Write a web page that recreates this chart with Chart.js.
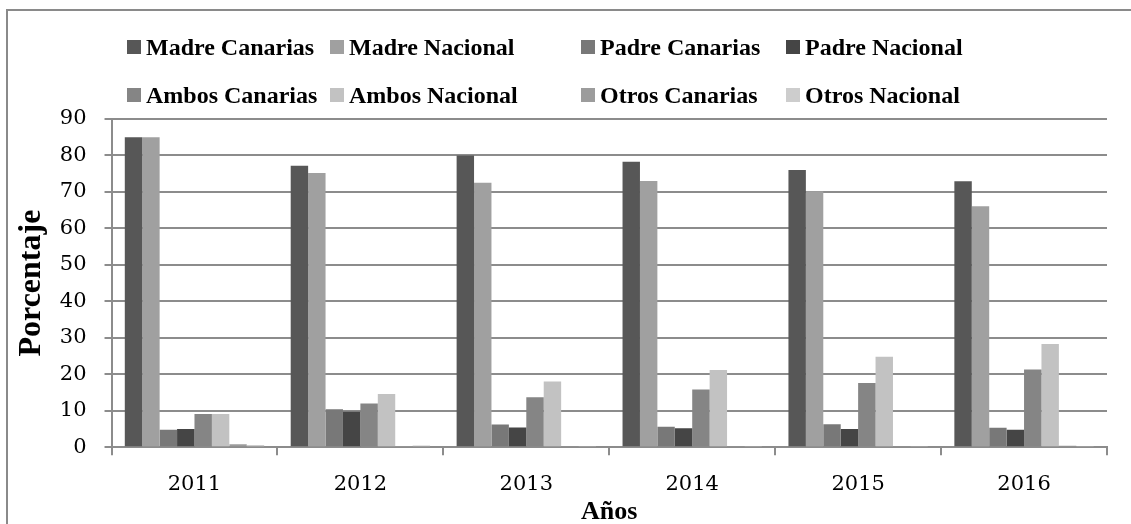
<!DOCTYPE html>
<html>
<head>
<meta charset="utf-8">
<script src="https://cdn.jsdelivr.net/npm/chart.js@4"></script>
<style>
  body { margin: 0; background: #fff; }
  #wrap { position: relative; width: 1131px; height: 524px; overflow: hidden; }
  #frame { position: absolute; left: 6px; top: 9px; width: 1140px; height: 530px; border: 2px solid #8a8a8a; box-sizing: border-box; }
  #chartBox { position: absolute; left: 0; top: 0; width: 1131px; height: 524px; }
  .legend-item { position: absolute; display: flex; align-items: center; white-space: nowrap;
    font: bold 24px "Liberation Serif", "Times New Roman", serif; color: #000; }
  .legend-box { width: 14px; height: 14px; margin-right: 5px; }
</style>
</head>
<body>
<div id="wrap">
  <div id="frame"></div>
  <div id="chartBox"><canvas id="chart"></canvas></div>
  <div id="legend"></div>
</div>
<script>
// --- Data ---
const years = ['2011', '2012', '2013', '2014', '2015', '2016'];
const seriesNames = ['Madre Canarias', 'Madre Nacional', 'Padre Canarias', 'Padre Nacional',
  'Ambos Canarias', 'Ambos Nacional', 'Otros Canarias', 'Otros Nacional'];
const madreCanarias = [85, 77.2, 80, 78.3, 76, 72.9];
const madreNacional = [85, 75.2, 72.5, 73, 70.2, 66.1];
const padreCanarias = [4.8, 10.4, 6.2, 5.6, 6.3, 5.3];
const padreNacional = [5.0, 9.7, 5.4, 5.2, 5.0, 4.8];
const ambosCanarias = [9.1, 12.0, 13.7, 15.8, 17.6, 21.3];
const ambosNacional = [9.1, 14.6, 18.0, 21.2, 24.8, 28.3];
const otrosCanarias = [0.8, 0.1, 0.2, 0.2, 0.2, 0.4];
const otrosNacional = [0.6, 0.5, 0.2, 0.2, 0.2, 0.3];
const yTicks = [0, 10, 20, 30, 40, 50, 60, 70, 80, 90];

const COLORS = ['#575757', '#a0a0a0', '#787878', '#454545', '#858585', '#c2c2c2', '#9c9c9c', '#cdcdcd'];
const GRID = '#8c8c8c';

const values = [madreCanarias, madreNacional, padreCanarias, padreNacional,
  ambosCanarias, ambosNacional, otrosCanarias, otrosNacional];

// --- Legend (two rows of four, aligned columns) ---
const legendCols = [127, 330, 581, 786];
const legendRows = [47, 95];
const legend = document.getElementById('legend');
seriesNames.forEach((name, i) => {
  const item = document.createElement('div');
  item.className = 'legend-item';
  item.style.left = legendCols[i % 4] + 'px';
  item.style.top = (legendRows[Math.floor(i / 4)] - 14) + 'px';
  item.style.height = '28px';
  item.innerHTML = `<span class="legend-box" style="background:${COLORS[i]}"></span>${name}`;
  legend.appendChild(item);
});

// --- Chart ---
new Chart(document.getElementById('chart').getContext('2d'), {
  type: 'bar',
  data: {
    labels: years,
    datasets: seriesNames.map((name, i) => ({
      label: name,
      data: values[i],
      backgroundColor: COLORS[i],
      barPercentage: 1,
      categoryPercentage: 0.84,
    })),
  },
  options: {
    responsive: true,
    maintainAspectRatio: false,
    animation: false,
    layout: { autoPadding: false, padding: { top: 119, right: 24, bottom: 0, left: 12 } },
    plugins: { legend: { display: false }, tooltip: { enabled: false } },
    scales: {
      x: {
        grid: { offset: true, drawOnChartArea: false, tickLength: 8, color: GRID, lineWidth: 2 },
        border: { color: GRID, width: 2 },
        ticks: { color: '#000', padding: 17, font: { family: 'DejaVu Serif', size: 21 } },
        title: {
          display: true, text: 'Años', color: '#000', padding: { top: -16, bottom: -3 },
          font: { family: 'Liberation Serif', size: 26, weight: 'bold', lineHeight: 1.1 },
        },
      },
      y: {
        min: 0,
        max: 90,
        afterBuildTicks: (axis) => { axis.ticks = yTicks.map((v) => ({ value: v })); },
        grid: { color: GRID, lineWidth: 2, tickLength: 7 },
        border: { color: GRID, width: 2 },
        ticks: { color: '#000', padding: 18, font: { family: 'DejaVu Serif', size: 21 } },
        title: {
          display: true, text: 'Porcentaje', color: '#000', padding: { top: 1, bottom: -8 },
          font: { family: 'Liberation Serif', size: 32, weight: 'bold', lineHeight: 1.15 },
        },
      },
    },
  },
});
</script>
</body>
</html>
